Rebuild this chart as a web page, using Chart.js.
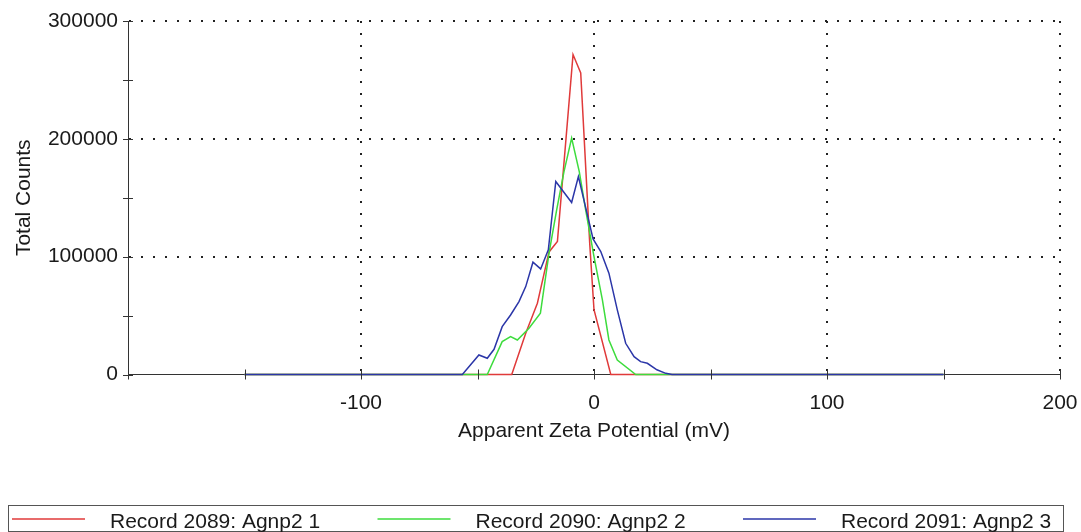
<!DOCTYPE html>
<html>
<head>
<meta charset="utf-8">
<script src="https://cdn.jsdelivr.net/npm/chart.js@4/dist/chart.umd.min.js"></script>
<style>
html,body{margin:0;padding:0;background:#fff;}
#wrap{width:1081px;height:532px;position:relative;}
</style>
</head>
<body>
<div id="wrap"><canvas id="c" width="1081" height="532"></canvas></div>
<script>
// ---- data ----
const xAxisTitle = 'Apparent Zeta Potential (mV)';
const yAxisTitle = 'Total Counts';
const seriesNames = ['Record 2089: Agnp2 1', 'Record 2090: Agnp2 2', 'Record 2091: Agnp2 3'];
const seriesColors = ['#e03a3a', '#3ddc3d', '#2b36a8'];

const redZeta   = [-150, -35.3, -29.3, -24.3, -19.3, -15.7, -9.0, -5.7, -1.8, 0.0, 7.2, 150];
const redCounts = [0, 0, 35000, 60500, 104000, 113000, 271500, 256000, 110000, 55000, 0, 0];

const greenZeta   = [-150, -45.8, -39.4, -35.8, -32.9, -27.9, -23.0, -19.3, -16.0, -12.9, -9.6, -6.3, -3.6, 0.0, 3.6, 6.4, 10.0, 17.9, 150];
const greenCounts = [0, 0, 27900, 32100, 29300, 39200, 52000, 103000, 140000, 172000, 200700, 172000, 140000, 100000, 63300, 29300, 12300, 0, 0];

const blueZeta   = [-150, -56.5, -49.4, -45.8, -42.9, -39.4, -35.8, -32.2, -29.3, -26.2, -22.9, -19.6, -16.4, -9.6, -6.7, -0.4, 2.9, 6.4, 10.0, 13.6, 17.2, 20.0, 22.9, 27.0, 30.8, 33.5, 150];
const blueCounts = [0, 0, 16600, 13800, 21400, 40600, 50500, 61900, 74600, 95300, 89600, 105800, 163800, 146000, 168000, 115000, 104300, 86000, 54800, 26500, 15100, 10900, 9500, 4000, 1000, 0, 0];

const xTickValues = [-200, -150, -100, -50, 0, 50, 100, 150, 200];
const xLabelValues = [-100, 0, 100, 200];
const yLabelValues = [0, 100000, 200000, 300000];

// ---- helpers ----
function pts(xs, ys) { return xs.map((x, i) => ({x: x, y: ys[i]})); }
const FONT = "'Liberation Sans', Arial, sans-serif";
const TEXT = '#1a1a1a';
const AXIS = '#333333';
const CLEAR = 'rgba(0,0,0,0)';

const tickMarks = {
  id: 'tickMarks',
  afterDatasetsDraw(chart) {
    const ctx = chart.ctx;
    const a = chart.chartArea;
    const xs = chart.scales.x, ys = chart.scales.y;
    ctx.save();
    ctx.strokeStyle = AXIS;
    ctx.lineWidth = 1;
    xs.ticks.forEach(t => {
      const p = Math.round(xs.getPixelForValue(t.value)) + 0.5;
      ctx.beginPath(); ctx.moveTo(p, a.bottom - 5); ctx.lineTo(p, a.bottom + 5); ctx.stroke();
    });
    ys.ticks.forEach(t => {
      const p = Math.round(ys.getPixelForValue(t.value)) + 0.5;
      ctx.beginPath(); ctx.moveTo(a.left - 5, p); ctx.lineTo(a.left + 5, p); ctx.stroke();
    });
    ctx.restore();
  }
};

const boxLegend = {
  id: 'boxLegend',
  afterDraw(chart) {
    const ctx = chart.ctx;
    ctx.save();
    ctx.strokeStyle = '#555';
    ctx.lineWidth = 1;
    ctx.strokeRect(8.5, 505.5, 1055, 26);
    ctx.font = '21px ' + FONT;
    ctx.fillStyle = TEXT;
    ctx.textBaseline = 'alphabetic';
    [0, 1, 2].forEach((k, i) => {
      const ds = chart.data.datasets.find(d => d.label === seriesNames[k]);
      const x0 = 12 + i * 365.5;
      ctx.strokeStyle = ds.borderColor;
      ctx.lineWidth = 1.5;
      ctx.beginPath(); ctx.moveTo(x0, 519); ctx.lineTo(x0 + 73, 519); ctx.stroke();
      ctx.fillText(ds.label, x0 + 98, 528);
    });
    ctx.restore();
  }
};

Chart.defaults.font.family = FONT;
Chart.defaults.font.size = 21;
Chart.defaults.color = TEXT;

new Chart(document.getElementById('c'), {
  type: 'line',
  data: {
    datasets: [
      {label: seriesNames[2], data: pts(blueZeta, blueCounts), borderColor: seriesColors[2], order: 0},
      {label: seriesNames[1], data: pts(greenZeta, greenCounts), borderColor: seriesColors[1], order: 1},
      {label: seriesNames[0], data: pts(redZeta, redCounts), borderColor: seriesColors[0], order: 2}
    ].map(d => Object.assign(d, {borderWidth: 1.5, pointRadius: 0, tension: 0, fill: false, clip: 4}))
  },
  options: {
    responsive: false,
    devicePixelRatio: 1,
    animation: false,
    events: [],
    layout: {padding: {left: 0, top: 21, right: 21, bottom: 87.5}},
    plugins: {legend: {display: false}, tooltip: {enabled: false}},
    scales: {
      x: {
        type: 'linear', min: -200, max: 200,
        afterFit: s => { s.height = 70; },
        afterBuildTicks: s => { s.ticks = xTickValues.map(v => ({value: v})); },
        ticks: {
          padding: 0, maxRotation: 0, autoSkip: false,
          callback: v => xLabelValues.includes(v) ? String(v) : ''
        },
        grid: {
          drawTicks: true, tickLength: 16, tickColor: CLEAR, lineWidth: 2,
          color: c => (c.tick && xLabelValues.includes(c.tick.value)) ? '#222' : CLEAR
        },
        border: {display: true, color: AXIS, width: 1, dash: [2, 10]},
        title: {display: true, text: xAxisTitle, padding: {top: 0, bottom: 1}}
      },
      y: {
        type: 'linear', min: 0, max: 300000,
        afterFit: s => { s.width = 128; },
        ticks: {
          stepSize: 50000, padding: 0,
          callback: v => yLabelValues.includes(v) ? String(v) : ''
        },
        grid: {
          drawTicks: true, tickLength: 10, tickColor: CLEAR, lineWidth: 2,
          color: c => (c.tick && c.tick.value > 0 && c.tick.value % 100000 === 0) ? '#222' : CLEAR
        },
        border: {display: true, color: AXIS, width: 1, dash: [2, 10]},
        title: {display: true, text: yAxisTitle, padding: {top: 12, bottom: 0}}
      }
    }
  },
  plugins: [tickMarks, boxLegend]
});
</script>
</body>
</html>
